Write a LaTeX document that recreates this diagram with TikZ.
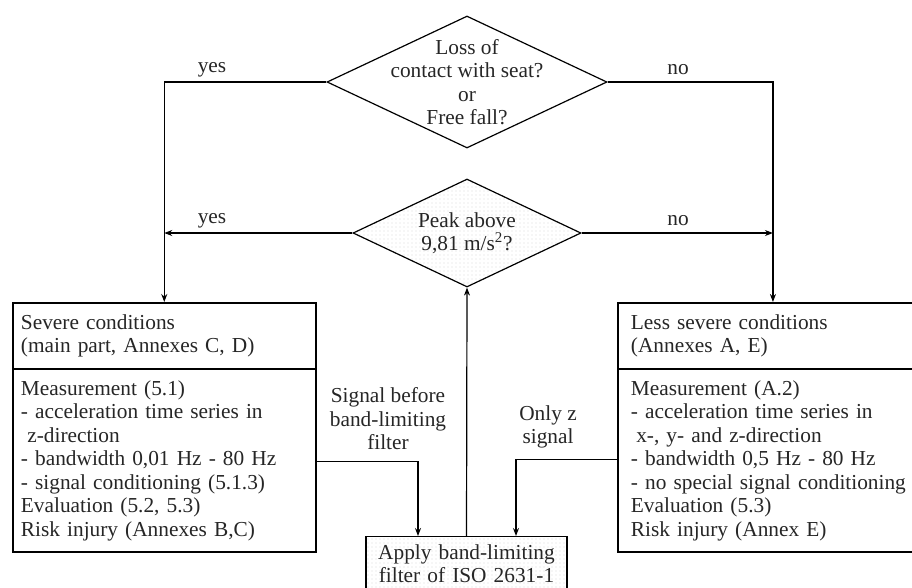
\documentclass[tikz,border=0pt]{standalone}
\usepackage{fontspec}
\setmainfont{Liberation Serif}
\usetikzlibrary{shapes.geometric,shapes.multipart,arrows.meta,patterns,calc}

\begin{document}
\begin{tikzpicture}[x=0.75pt, y=-0.75pt, >={Stealth[length=6pt,width=4.5pt]},
  every node/.style={font=\fontsize{16}{17.6}\selectfont, text=black!85},
  decision/.style={diamond, draw, line width=0.9pt, inner sep=0pt},
  condbox/.style={rectangle split, rectangle split parts=2, draw, line width=1.4pt,
    inner xsep=6pt, inner ysep=8pt, text width=215pt, align=left, anchor=north west},
  dotfill/.style={pattern=dots, pattern color=gray!30},
  flow/.style={->, line width=0.9pt}]
  \useasboundingbox (0,0) rectangle (912,587);
  % Two questions, the second one shaded
  \node[decision, minimum width=210pt, minimum height=99pt,
    label={[name=q1text, align=center]center:{Loss of\\contact with seat?\\or\\Free fall?}}]
    (q1) at (467,82) {};
  \node[decision, dotfill, minimum width=171pt, minimum height=81pt,
    label={[name=q2text, align=center]center:{Peak above\\9,81 m/s\textsuperscript{2}?}}]
    (q2) at (467,233) {};
  % The two procedures and the filter step
  \node[condbox] (sev) at (12,302) {Severe conditions\\(main part, Annexes C, D)
    \nodepart{two}Measurement (5.1)\\- acceleration time series in\\\hspace{0.3em}z-direction\\
    - bandwidth 0,01 Hz - 80 Hz\\- signal conditioning (5.1.3)\\Evaluation (5.2, 5.3)\\
    Risk injury (Annexes B,C)};
  \node[condbox, inner xsep=9.75pt, text width=213pt] (less) at (617,302) {Less severe conditions\\(Annexes A, E)
    \nodepart{two}Measurement (A.2)\\- acceleration time series in\\\hspace{0.25em}x-, y- and z-direction\\
    - bandwidth 0,5 Hz - 80 Hz\\- no special signal conditioning\\Evaluation (5.3)\\
    Risk injury (Annex E)};
  \node[draw, dotfill, line width=0.9pt, anchor=north, align=center, inner xsep=4pt, inner ysep=6pt,
    text width=142.75pt] (filt) at (466.5,536) {Apply band-limiting\\filter of ISO 2631-1};
  % Connectors
  \draw[flow] (q1.west) -| (sev.north);
  \draw[flow] (q1.east) -| (less.north);
  \draw[flow] (q2.west) -- (q2.west -| sev.north);
  \draw[flow] (q2.east) -- (q2.east -| less.north);
  \draw[flow] (filt.north) -- (q2.south);
  \draw[flow] ($(sev.east)+(0,34)$) -| ($(filt.north)+(-48.5,0)$);
  \draw[flow] ($(less.west)+(0,32)$) -| ($(filt.north)+(49.5,0)$);
  % Labels
  \node (yes1) at (212,70) {yes};
  \node (no1) at (678,70) {no};
  \node (yes2) at (212,221) {yes};
  \node (no2) at (678,221) {no};
  \node[align=center] (before) at (388,419) {Signal before\\band-limiting\\filter};
  \node[align=center] (onlyz) at (548,427) {Only z\\signal};
\end{tikzpicture}
\end{document}
